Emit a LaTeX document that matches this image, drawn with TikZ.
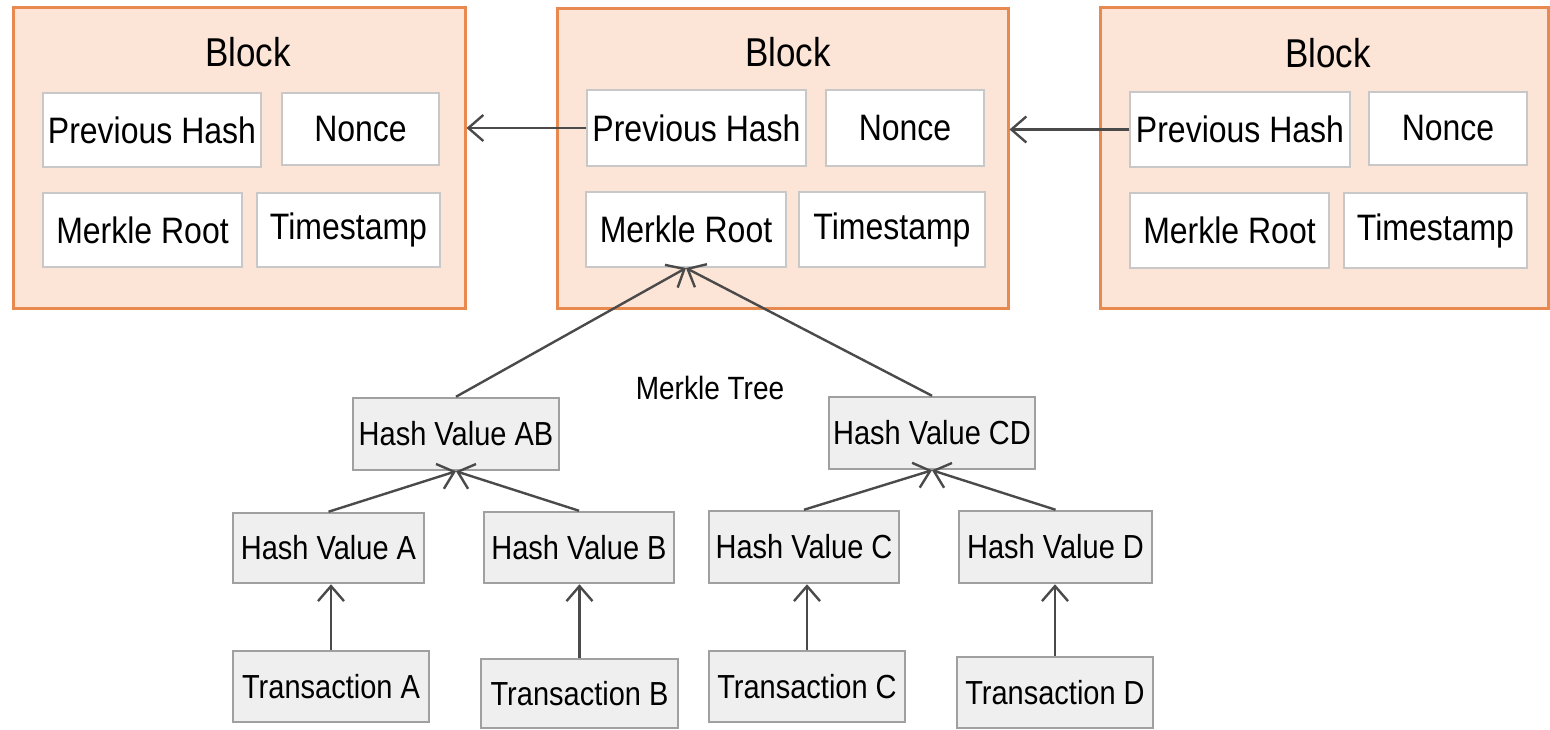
\documentclass[tikz,border=0pt]{standalone}
\usepackage{fontspec}
\setmainfont{Liberation Sans}
\usetikzlibrary{arrows.meta}
\definecolor{blockfill}{HTML}{FCE4D6}
\definecolor{blockline}{HTML}{E8894F}
\definecolor{innerline}{HTML}{C8C8C8}
\definecolor{treefill}{HTML}{EFEFEF}
\definecolor{treeline}{HTML}{A0A0A0}
\definecolor{arrowcol}{HTML}{4A4A4A}
\newcommand{\vtxt}[1]{\scalebox{1}[1.15]{#1}}
\begin{document}
\begin{tikzpicture}[x=1pt,y=-1pt,
  blockbox/.style={draw=blockline,fill=blockfill,line width=3pt,inner sep=0pt},
  innerbox/.style={draw=innerline,fill=white,line width=2pt,inner sep=0pt,font=\fontsize{32}{36}\selectfont},
  treebox/.style={draw=treeline,fill=treefill,line width=2.5pt,inner sep=0pt,font=\fontsize{29}{33}\selectfont},
  titletext/.style={inner sep=0pt,font=\fontsize{35}{40}\selectfont},
  lbl/.style={inner sep=0pt,font=\fontsize{28}{32}\selectfont},
  arr/.style={draw=arrowcol,line width=2.4pt,-{Straight Barb[length=15pt,width=26pt,line width=2.4pt]}}
]
\useasboundingbox[fill=white] (0,0) rectangle (1550,729);

% Blocks
\node[blockbox,minimum width=452pt,minimum height=301pt] (b1) at (239,157.5) {};
\node[blockbox,minimum width=451pt,minimum height=300pt] (b2) at (782.5,158) {};
\node[blockbox,minimum width=448pt,minimum height=301pt] (b3) at (1324,157.5) {};

\node[titletext] (t1) at (248,52) {\vtxt{Block}};
\node[titletext] (t2) at (788,52) {\vtxt{Block}};
\node[titletext] (t3) at (1328,53) {\vtxt{Block}};

% Block 1 contents
\node[innerbox,minimum width=218pt,minimum height=74pt] (ph1) at (152,130) {\vtxt{Previous Hash}};
\node[innerbox,minimum width=157pt,minimum height=72pt] (n1) at (360.5,129) {\vtxt{Nonce}};
\node[innerbox,minimum width=199pt,minimum height=74pt] (mr1) at (142.5,230) {\vtxt{Merkle Root}};
\node[innerbox,minimum width=183pt,minimum height=74pt] (ts1) at (348.5,230) {\vtxt{Timestamp}};

% Block 2 contents
\node[innerbox,minimum width=219pt,minimum height=76pt] (ph2) at (696.5,128) {\vtxt{Previous Hash}};
\node[innerbox,minimum width=158pt,minimum height=76pt] (n2) at (905,128) {\vtxt{Nonce}};
\node[innerbox,minimum width=200pt,minimum height=75pt] (mr2) at (686,229.5) {\vtxt{Merkle Root}};
\node[innerbox,minimum width=186pt,minimum height=75pt] (ts2) at (892,229.5) {\vtxt{Timestamp}};

% Block 3 contents
\node[innerbox,minimum width=220pt,minimum height=75pt] (ph3) at (1240,129.5) {\vtxt{Previous Hash}};
\node[innerbox,minimum width=158pt,minimum height=73pt] (n3) at (1448,128.5) {\vtxt{Nonce}};
\node[innerbox,minimum width=199pt,minimum height=75pt] (mr3) at (1229.5,230.5) {\vtxt{Merkle Root}};
\node[innerbox,minimum width=183pt,minimum height=75pt] (ts3) at (1435.5,230.5) {\vtxt{Timestamp}};

% Merkle tree
\node[lbl] (mt) at (710,388) {\vtxt{Merkle Tree}};
\node[treebox,minimum width=206pt,minimum height=72pt] (hab) at (456,434) {\vtxt{Hash Value AB}};
\node[treebox,minimum width=206pt,minimum height=72pt] (hcd) at (932,433) {\vtxt{Hash Value CD}};
\node[treebox,minimum width=191pt,minimum height=70pt] (ha) at (328.5,548) {\vtxt{Hash Value A}};
\node[treebox,minimum width=190pt,minimum height=71pt] (hb) at (579,547.5) {\vtxt{Hash Value B}};
\node[treebox,minimum width=190pt,minimum height=72pt] (hc) at (804,547) {\vtxt{Hash Value C}};
\node[treebox,minimum width=193pt,minimum height=72pt] (hd) at (1055.5,547) {\vtxt{Hash Value D}};
\node[treebox,minimum width=196pt,minimum height=71pt] (ta) at (331,686.5) {\vtxt{Transaction A}};
\node[treebox,minimum width=197pt,minimum height=69pt] (tb) at (579.5,693.5) {\vtxt{Transaction B}};
\node[treebox,minimum width=196pt,minimum height=71pt] (tc) at (807,686.5) {\vtxt{Transaction C}};
\node[treebox,minimum width=196pt,minimum height=71pt] (td) at (1055,692.5) {\vtxt{Transaction D}};

% Chain arrows
\draw[arr] (ph2.west) -- (ph2.west -| b1.east);
\draw[arr] (ph3.west) -- (ph3.west -| b2.east);

% Tree arrows
\draw[arr] (hab.north) -- (mr2.south);
\draw[arr] (hcd.north) -- (mr2.south);
\draw[arr] (ha.north) -- (hab.south);
\draw[arr] (hb.north) -- (hab.south);
\draw[arr] (hc.north) -- (hcd.south);
\draw[arr] (hd.north) -- (hcd.south);
\draw[arr] (ta.north) -- (ta.north |- ha.south);
\draw[arr] (tb.north) -- (tb.north |- hb.south);
\draw[arr] (tc.north) -- (tc.north |- hc.south);
\draw[arr] (td.north) -- (td.north |- hd.south);
\end{tikzpicture}
\end{document}
